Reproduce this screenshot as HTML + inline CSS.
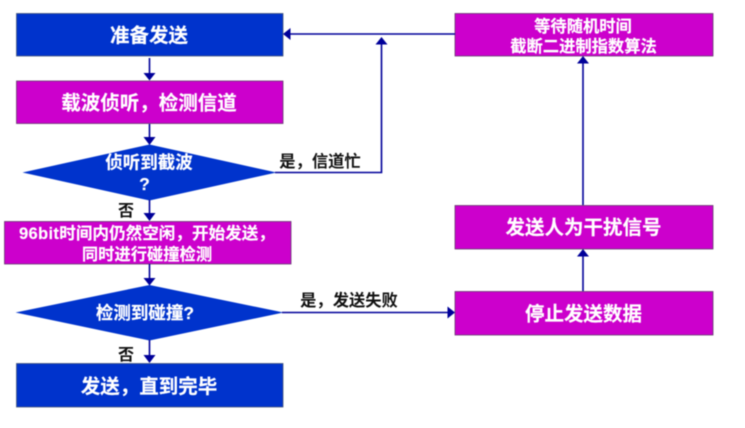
<!DOCTYPE html>
<html><head><meta charset="utf-8"><style>
html,body{margin:0;padding:0;background:#fff;width:745px;height:428px;overflow:hidden}
svg{display:block;filter:blur(.45px)}
text{font-family:"Liberation Sans","Noto Sans CJK SC",sans-serif;font-weight:700;text-anchor:middle}
.w{fill:#fff;stroke:#fff;stroke-width:.15}.k{fill:#111}
.b{fill:#0033cc;stroke:#44557a;stroke-width:.8}
.m{fill:#cc00cc;stroke:#663a70;stroke-width:.8}
.l{fill:none;stroke:#000099;stroke-width:1.6}
.a{fill:#000099}
</style></head><body>
<svg width="745" height="428" viewBox="0 0 745 428" xmlns="http://www.w3.org/2000/svg">
<rect class="b" x="16.5" y="13.5" width="266.500" height="42.500"/>
<rect class="m" x="16.500" y="81" width="266.500" height="42.500"/>
<polygon points="149.500,144.500 276.500,172.500 149.500,200.500 22.500,172.500" fill="#0033cc"/>
<rect class="m" x="4.500" y="221.500" width="286.500" height="42.500"/>
<polygon points="149.500,285 283.500,312.500 149.500,340.500 15.500,312.500" fill="#0033cc"/>
<rect class="b" x="16.500" y="363.500" width="266.500" height="43.500"/>
<rect class="m" x="455" y="13.500" width="258" height="42.500"/>
<rect class="m" x="455" y="205.500" width="258" height="43.500"/>
<rect class="m" x="455" y="291.500" width="258" height="43.500"/>

<path class="l" d="M149.500 58V74M149.500 124V138M149.500 200V215M149.500 264V279M149.500 340V356"/>
<polygon class="a" points="143.500,73 155.500,73 149.500,80.500"/>
<polygon class="a" points="143.500,137 155.500,137 149.500,145"/>
<polygon class="a" points="143.500,213 155.500,213 149.500,221"/>
<polygon class="a" points="143.500,278 155.500,278 149.500,285.500"/>
<polygon class="a" points="143.500,355 155.500,355 149.500,363"/>
<path class="l" d="M455 34H290"/>
<polygon class="a" points="283,34 290.500,28 290.500,40"/>
<path class="l" d="M275 172.500H381.500V44"/>
<polygon class="a" points="381.500,37 375.500,44.500 387.500,44.500"/>
<path class="l" d="M282 312.500H448"/>
<polygon class="a" points="455,312.500 447.500,306.500 447.500,318.500"/>
<path class="l" d="M583 205V63"/>
<polygon class="a" points="583,56 577,63.500 589,63.500"/>
<path class="l" d="M583 291V256"/>
<polygon class="a" points="583,249 577,256.500 589,256.500"/>

<text class="w" x="149" y="42" font-size="19.500">准备发送</text>
<text class="w" x="149" y="109.500" font-size="19.500">载波侦听，检测信道</text>
<text class="w" x="149" y="168.500" font-size="17.500">侦听到截波</text>
<text class="w" x="144.500" y="190" font-size="17.500">?</text>
<text class="w" x="19" y="239" font-size="16.600" style="text-anchor:start"><tspan letter-spacing=".3">96bit</tspan>时间内仍然空闲，开始发送，</text>
<text class="w" x="147" y="260" font-size="16.300">同时进行碰撞检测</text>
<text class="w" x="145" y="319" font-size="17.500">检测到碰撞?</text>
<text class="w" x="149" y="393" font-size="19.500">发送，直到完毕</text>
<text class="w" x="583" y="32" font-size="16.300">等待随机时间</text>
<text class="w" x="583.500" y="52" font-size="16.300">截断二进制指数算法</text>
<text class="w" x="583.500" y="234" font-size="19.500">发送人为干扰信号</text>
<text class="w" x="583.500" y="320.500" font-size="19.500">停止发送数据</text>
<text class="k" x="320" y="167" font-size="16.300">是，信道忙</text>
<text class="k" x="349" y="306" font-size="16.300">是，发送失败</text>
<text class="k" x="126" y="216" font-size="16">否</text>
<text class="k" x="126" y="360" font-size="16">否</text>
</svg>
</body></html>
